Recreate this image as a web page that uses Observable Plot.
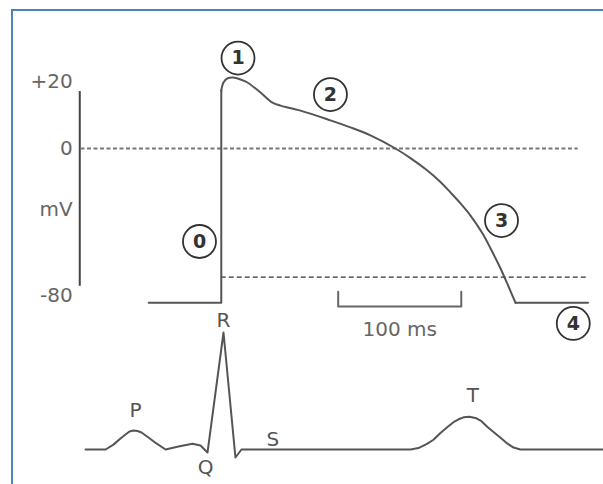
<!DOCTYPE html>
<html>
<head>
<meta charset="utf-8">
<script src="https://cdn.jsdelivr.net/npm/d3@7"></script>
<script src="https://cdn.jsdelivr.net/npm/@observablehq/plot@0.6"></script>
<style>
  body { margin: 0; background: #fff; }
  #fig { position: relative; width: 603px; height: 484px; overflow: hidden; background: #fff; }
  #frame { position: absolute; left: 11px; top: 9px; right: -10px; bottom: -10px;
           border-left: 2px solid #4f81bd; border-top: 2px solid #4f81bd; }
  #fig svg { position: absolute; left: 0; top: 0; }
</style>
</head>
<body>
<div id="fig"><div id="frame"></div></div>
<script>
// Ventricular action potential (time in ms from the upstroke, membrane potential in mV)
const apTime    = [-59, 0, 0, 1.8, 5, 9.9, 15.6, 21.3, 31.9, 41.6, 48.1, 64.4, 88.7, 105, 121.2, 141.5, 153.7, 165.9, 178.1, 186.2, 194.4, 202.5, 212.3, 218.8, 226.9, 233.4, 239.1, 298];
const apVoltage = [-84, -84, 17.3, 19.7, 20.9, 21.2, 20.6, 19.7, 16.7, 13.7, 12.8, 11.3, 8.4, 6.3, 3.9, 0, -5.2, -11.2, -18.2, -23.9, -29.9, -36.5, -46.3, -54.4, -65.3, -75.1, -84, -84];
// Points joined by straight segments (rest, upstroke, return to rest); the rest is drawn smooth
const apSharp  = [[0, 1, 2], [26, 27]];
const apSmooth = d3.range(2, 27);

// Phase markers 0–4
const phaseNames   = ["0", "1", "2", "3", "4"];
const phaseTime    = [-17.7, 13.6, 88.7, 227.7, 286];
const phaseVoltage = [-50.6, 27, 16.1, -39.2, -95.2];

// Voltage axis
const yTicks      = [20, 0, -80];
const yTickLabels = ["+20", "0", "-80"];
const yUnit       = "mV";
const yUnitAt     = -33;
const axisTime    = -115;
const axisSpan    = [17, -75];

// Reference levels
const zeroLevel      = 0;
const zeroSpan       = [-114, 290];
const thresholdLevel = -70;
const thresholdSpan  = [0, 298];

// Time scale bar
const barStart = 95, barEnd = 195, barLow = -86, barHigh = -78;
const barLabel = "100 ms", barLabelAt = -98.5;

// Surface ECG (time in ms, amplitude in mV)
const ecgTime  = [-110.3, -94, -87.6, -81.9, -77.8, -74.6, -71.3, -68.1, -64.8, -59.2, -52.7, -45.3, -34.8, -23.4, -16.9, -11.2, 1.8, 11.5, 16.4, 153.8, 160.2, 167.5, 172.4, 178.1, 183.8, 188.7, 192.8, 196.8, 201.7, 207.3, 211.4, 216.3, 221.2, 226.9, 232.6, 237.5, 243.1, 311];
const ecgValue = [0, 0, 0.05, 0.113, 0.154, 0.185, 0.195, 0.19, 0.175, 0.123, 0.062, 0, 0.03, 0.058, 0.041, -0.031, 1.2, -0.082, 0, 0, 0.015, 0.06, 0.1, 0.17, 0.23, 0.28, 0.31, 0.33, 0.335, 0.32, 0.29, 0.23, 0.18, 0.12, 0.06, 0.02, 0, 0];

const waveNames = ["P", "Q", "R", "S", "T"];
const waveTime  = [-69.7, -12.8, 1.8, 42, 204.5];
const waveValue = [0.40, -0.19, 1.32, 0.103, 0.554];

const font = "DejaVu Sans, Verdana, sans-serif";
const ink = "#555";
const xScale = {domain: [-110, 310], range: [85.4, 602.3], axis: null};
const common = {width: 603, height: 484, margin: 0, style: {background: "transparent", overflow: "visible", fontFamily: font}};

// The diagram stretches the depolarised (positive) part of the voltage axis
const positiveStretch = 1.823;
const stretch = (v) => (v > 0 ? v * positiveStretch : v);

const idx = (a) => d3.range(a.length);
const apLine = {x: (i) => apTime[i], y: (i) => apVoltage[i], stroke: ink, strokeWidth: 2, strokeLinejoin: "round", strokeLinecap: "round"};

const apPlot = Plot.plot({
  ...common,
  x: xScale,
  y: {type: "linear", transform: stretch, domain: [-80, 20 * positiveStretch], range: [295, 81], axis: null},
  marks: [
    Plot.ruleX([axisTime], {y1: axisSpan[0], y2: axisSpan[1], stroke: "#444", strokeWidth: 2}),
    Plot.ruleY([zeroLevel], {x1: zeroSpan[0], x2: zeroSpan[1], stroke: "#777", strokeWidth: 2, strokeDasharray: "4,2.5"}),
    Plot.ruleY([thresholdLevel], {x1: thresholdSpan[0], x2: thresholdSpan[1], stroke: "#333", strokeWidth: 1.2, strokeDasharray: "5,3"}),
    Plot.text(idx(yTicks), {x: () => axisTime, y: (i) => yTicks[i], text: (i) => yTickLabels[i], dx: -7, textAnchor: "end", fontSize: 20, fill: "#666", fontFamily: font}),
    Plot.text([yUnit], {x: () => axisTime, y: () => yUnitAt, text: (d) => d, dx: -7, textAnchor: "end", fontSize: 20, fill: "#666", fontFamily: font}),
    ...apSharp.map((seg) => Plot.line(seg, apLine)),
    Plot.line(apSmooth, {...apLine, curve: "catmull-rom"}),
    Plot.line([[barStart, barHigh], [barStart, barLow], [barEnd, barLow], [barEnd, barHigh]], {x: (d) => d[0], y: (d) => d[1], stroke: "#666", strokeWidth: 2}),
    Plot.text([barLabel], {x: () => (barStart + barEnd) / 2, y: () => barLabelAt, text: (d) => d, fontSize: 20, fill: "#666", fontFamily: font}),
    Plot.dot(idx(phaseNames), {x: (i) => phaseTime[i], y: (i) => phaseVoltage[i], r: 16.5, fill: "white", stroke: "#333", strokeWidth: 1.8}),
    Plot.text(idx(phaseNames), {x: (i) => phaseTime[i], y: (i) => phaseVoltage[i], text: (i) => phaseNames[i], fontSize: 19, fontWeight: "bold", fill: "#333", fontFamily: font})
  ]
});

const ecgPlot = Plot.plot({
  ...common,
  x: xScale,
  y: {domain: [0, 1.2], range: [449, 332], axis: null},
  marks: [
    Plot.line(idx(ecgTime), {x: (i) => ecgTime[i], y: (i) => ecgValue[i], stroke: ink, strokeWidth: 2, strokeLinejoin: "round"}),
    Plot.text(idx(waveNames), {x: (i) => waveTime[i], y: (i) => waveValue[i], text: (i) => waveNames[i], fontSize: 20, fill: "#555", fontFamily: font})
  ]
});

const fig = document.getElementById("fig");
fig.appendChild(apPlot);
fig.appendChild(ecgPlot);
</script>
</body>
</html>
